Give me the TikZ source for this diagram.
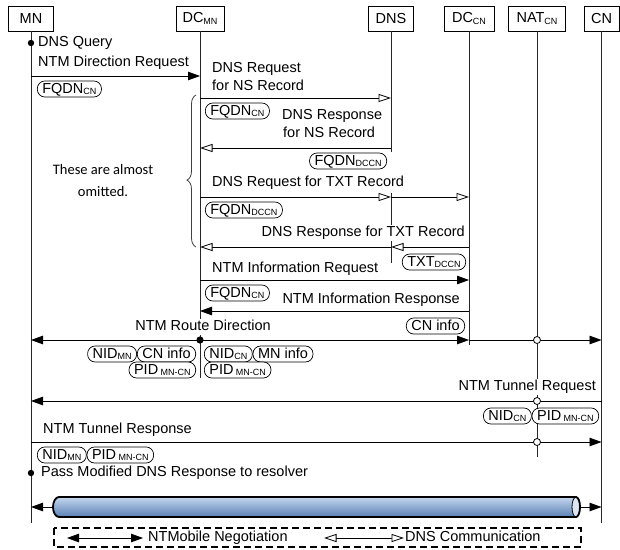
\documentclass[tikz,border=0pt]{standalone}
\usepackage{fontspec}
\setmainfont{Liberation Sans}
\newfontfamily\calib{Carlito}
\usetikzlibrary{arrows.meta,decorations.pathreplacing,calc}
\newcommand\lsb[1]{\raisebox{-1.2pt}{\fontsize{9}{9}\selectfont #1}}
\definecolor{tubeTop}{HTML}{C4D6EE}
\definecolor{tubeMid}{HTML}{94B4DC}
\definecolor{tubeBot}{HTML}{5A80B4}
\begin{document}
\begin{tikzpicture}[x=1pt,y=-1pt,
  font=\fontsize{14.5}{18}\selectfont,
  head/.style={draw,line width=0.8pt,minimum height=25pt,inner sep=0pt},
  life/.style={line width=0.9pt,draw=black!85},
  msg/.style={line width=0.8pt},
  ftip/.tip={Triangle[length=12pt,width=8.5pt]},
  otip/.tip={Triangle[open,length=12.5pt,width=8pt,fill=white]},
  fa/.style={msg,-ftip},
  oa/.style={msg,-otip},
  txt/.style={fill=white,inner sep=1pt,text height=10.5pt,text depth=3pt},
  mtxt/.style={fill=white,inner sep=1pt,align=left},
  lbl/.style={draw,fill=white,rounded corners=7.5pt,minimum height=16pt,inner xsep=5pt,inner ysep=0pt,line width=0.7pt,text height=10.5pt,text depth=2.5pt},
  dot/.style={fill=black},
  ring/.style={draw,fill=white,line width=0.8pt},
]
\useasboundingbox (0,0) rectangle (620,549);

% headers
\node[head,minimum width=45pt] (mn)   at (31,18.5)    {MN};
\node[head,minimum width=48pt] (dcmn) at (200,18.5)   {DC\lsb{MN}};
\node[head,minimum width=45pt] (dns)  at (391,18.5)   {DNS};
\node[head,minimum width=50pt] (dccn) at (469,18.5)   {DC\lsb{CN}};
\node[head,minimum width=57pt] (nat)  at (537,18.5)   {NAT\lsb{CN}};
\node[head,minimum width=35pt] (cn)   at (601.5,18.5) {CN};

% lifelines
\draw[life] (mn.south)   -- (mn |- 0,523);
\draw[life] (dcmn.south) -- (dcmn |- 0,378);
\draw[life] (dns.south)  -- (dns |- 0,152);
\draw[life] (dns |- 0,193) -- (dns |- 0,263);
\draw[life] (dccn.south) -- (dccn |- 0,345);
\draw[life] (nat.south)  -- (nat |- 0,457);
\draw[life] (cn.south)   -- (cn |- 0,523);

% brace
\draw[line width=0.8pt,draw=black!75,decorate,decoration={brace,amplitude=9pt,aspect=0.44}] (196,247) -- (196,95);
\node[font=\calib\fontsize{14.5}{22}\selectfont,align=center] (omit) at (103,181) {These are almost\\omitted.};

% messages
\draw[fa] (mn |- 0,76) -- (dcmn |- 0,76);
\draw[oa] (dcmn |- 0,98) -- (dns |- 0,98);
\draw[oa] (dns |- 0,148) -- (dcmn |- 0,148);
\draw[oa] (dcmn |- 0,197) -- (dns |- 0,197);
\draw[oa] (dns |- 0,197) -- (dccn |- 0,197);
\draw[oa] (dccn |- 0,247) -- (dns |- 0,247);
\draw[oa] (dns |- 0,247) -- (dcmn |- 0,247);
\draw[fa] (dcmn |- 0,280) -- (dccn |- 0,280);
\draw[fa] (dccn |- 0,311) -- (dcmn |- 0,311);
\draw[fa] (dcmn |- 0,340) -- (mn |- 0,340);
\draw[fa] (dcmn |- 0,340) -- (dccn |- 0,340);
\draw[fa] (dccn |- 0,340) -- (cn |- 0,340);
\draw[fa] (cn |- 0,401) -- (mn |- 0,401);
\draw[fa] (mn |- 0,442) -- (cn |- 0,442);

% texts
\node[txt,anchor=west] (t1) at (37,43) {DNS Query};
\node[txt,anchor=west] (t2) at (37,63) {NTM Direction Request};
\node[mtxt,anchor=west] (t3) at (211,77) {DNS Request\\for NS Record};
\node[mtxt,anchor=west] (t4) at (281,124) {DNS Response\\\hspace*{1pt}for NS Record};
\node[txt,anchor=west] (t5) at (211,183) {DNS Request for TXT Record};
\node[txt,anchor=east] (t6) at (466,233) {DNS Response for TXT Record};
\node[txt,anchor=west] (t7) at (211,269) {NTM Information Request};
\node[txt,anchor=east] (t8) at (461,300) {NTM Information Response};
\node[txt] (t9) at (203,327) {NTM Route Direction};
\node[txt,anchor=east] (t10) at (597,387) {NTM Tunnel Request};
\node[txt,anchor=west] (t11) at (42,430) {NTM Tunnel Response};
\node[txt,anchor=west] (t12) at (40,473) {Pass Modified DNS Response to resolver};

% labels
\node[lbl,anchor=west] (l1) at (37,89) {FQDN\lsb{CN}};
\node[lbl,anchor=west] (l2) at (205,111) {FQDN\lsb{CN}};
\node[lbl,anchor=east] (l3) at (387,161) {FQDN\lsb{DCCN}};
\node[lbl,anchor=west] (l4) at (205,210) {FQDN\lsb{DCCN}};
\node[lbl,anchor=east] (l5) at (466,262) {TXT\lsb{DCCN}};
\node[lbl,anchor=west] (l6) at (205,293) {FQDN\lsb{CN}};
\node[lbl,anchor=east] (l7) at (465,326) {CN info};
\node[lbl,anchor=east] (l8b) at (196,354) {CN info};
\node[lbl,anchor=east] (l8a) at (l8b.west) {NID\lsb{MN}};
\node[lbl,anchor=east] (l9) at (196,370) {PID\,\lsb{MN-CN}};
\node[lbl,anchor=west] (l10a) at (204,354) {NID\lsb{CN}};
\node[lbl,anchor=west] (l10b) at (l10a.east) {MN info};
\node[lbl,anchor=west] (l11) at (204,370) {PID\,\lsb{MN-CN}};
\node[lbl,anchor=east] (l12b) at (599,416) {PID\,\lsb{MN-CN}};
\node[lbl,anchor=east] (l12a) at (l12b.west) {NID\lsb{CN}};
\node[lbl,anchor=west] (l13a) at (37,455) {NID\lsb{MN}};
\node[lbl,anchor=west] (l13b) at (l13a.east) {PID\,\lsb{MN-CN}};

% dots and rings
\fill[dot] (mn |- 0,43) circle[radius=3.2pt];
\fill[dot] (mn |- 0,473) circle[radius=3.2pt];
\fill[dot] (dcmn |- 0,340) circle[radius=3.6pt];
\draw[ring] (nat |- 0,340) circle[radius=3.5pt];
\draw[ring] (nat |- 0,401) circle[radius=3.5pt];
\draw[ring] (nat |- 0,442) circle[radius=3.5pt];

% tube
\coordinate (tl) at (53,507);
\coordinate (tr) at (580,507);
\draw[fa] (tl) -- (mn |- tl);
\draw[fa] (tr) -- (cn |- tr);
\shade[top color=tubeTop,middle color=tubeMid,bottom color=tubeBot]
  (59,497) -- (576,497) arc[start angle=90,end angle=-90,x radius=4pt,y radius=10pt]
  -- (59,517) arc[start angle=270,end angle=90,x radius=6pt,y radius=10pt] -- cycle;
\draw[fill=tubeTop!60!white,line width=0.8pt] (576,507) ellipse[x radius=4pt,y radius=10pt];
\draw[line width=1.8pt,line join=round]
  (59,497) -- (576,497) arc[start angle=90,end angle=-90,x radius=4pt,y radius=10pt]
  -- (59,517) arc[start angle=270,end angle=90,x radius=6pt,y radius=10pt] -- cycle;

% legend
\draw[line width=1.6pt,dash pattern=on 7pt off 4pt] (54,528) rectangle (581,547);
\coordinate (g1) at (67,538);
\coordinate (g2) at (143,538);
\coordinate (g3) at (324,538);
\coordinate (g4) at (404,538);
\draw[msg,ftip-ftip] (g1) -- (g2);
\draw[msg,otip-otip] (g3) -- (g4);
\node[txt,anchor=west,fill=none] (leg1) at (147,538) {NTMobile Negotiation};
\node[txt,anchor=west,fill=none] (leg2) at (404,538) {DNS Communication};
\end{tikzpicture}
\end{document}
